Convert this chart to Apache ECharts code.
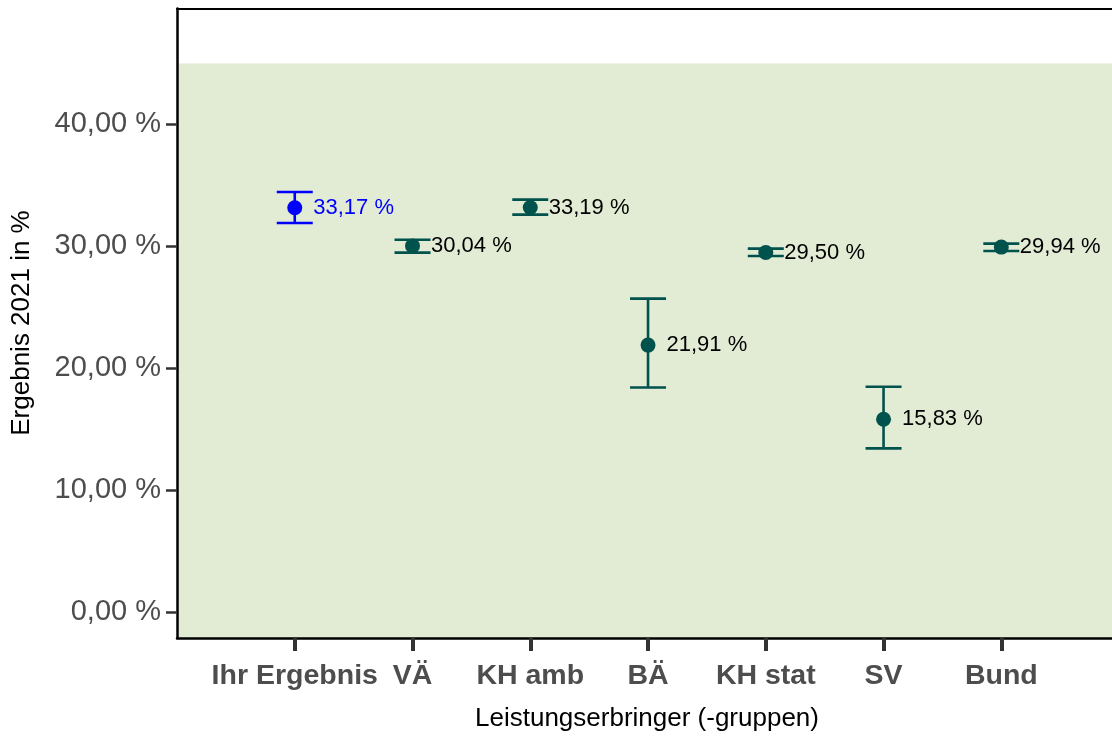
<!DOCTYPE html>
<html>
<head>
<meta charset="utf-8">
<script src="https://cdn.jsdelivr.net/npm/echarts@6/dist/echarts.min.js"></script>
<style>
  html, body { margin: 0; padding: 0; background: #ffffff; }
  #chart { width: 1112px; height: 740px; }
</style>
</head>
<body>
<div id="chart"></div>
<script>
// ---- data ----
const categories = ['Ihr Ergebnis', 'VÄ', 'KH amb', 'BÄ', 'KH stat', 'SV', 'Bund'];
const values = [33.17, 30.04, 33.19, 21.91, 29.50, 15.83, 29.94];
const lowerCI = [31.92, 29.49, 32.60, 18.43, 29.21, 13.44, 29.62];
const upperCI = [34.46, 30.55, 33.83, 25.72, 29.82, 18.49, 30.23];
const yTickValues = [0, 10, 20, 30, 40];
const referenceBandTop = 45;

const xPositions = categories.map((c, i) => i + 1);
const highlightColor = '#0000FF';
const groupColor = '#00524C';
const fmt = v => v.toFixed(2).replace('.', ',') + ' %';

const chart = echarts.init(document.getElementById('chart'), null, { renderer: 'canvas' });

const errData = categories.map((c, i) => [xPositions[i], lowerCI[i], upperCI[i], i]);
const pointData = categories.map((c, i) => ({
  value: [xPositions[i], values[i]],
  itemStyle: { color: i === 0 ? highlightColor : groupColor, opacity: 1 },
  label: { color: i === 0 ? highlightColor : '#000000' }
}));

const option = {
  animation: false,
  backgroundColor: '#ffffff',
  grid: {
    left: 177, top: 8.5, right: 0, bottom: 102,
    show: false
  },
  xAxis: [
    {
      type: 'value',
      min: 0, max: 7.94,
      axisLine: { show: true, onZero: false, lineStyle: { color: '#000000', width: 2.5 } },
      axisTick: { show: true, customValues: xPositions, length: 13, lineStyle: { color: '#333333', width: 4 } },
      axisLabel: {
        customValues: xPositions,
        formatter: v => categories[Math.round(v) - 1] || '',
        fontFamily: 'Liberation Sans, Arial, sans-serif',
        fontWeight: 'bold', fontSize: 28.5, color: '#4d4d4d', margin: 24
      },
      splitLine: { show: false },
      z: 10
    },
    {
      type: 'value', position: 'top',
      min: 0, max: 7.94,
      axisLine: { show: true, onZero: false, lineStyle: { color: '#000000', width: 2 } },
      axisTick: { show: false },
      axisLabel: { show: false },
      splitLine: { show: false }
    }
  ],
  yAxis: {
    type: 'value',
    min: -2.1, max: 49.5,
    axisLine: { show: true, onZero: false, lineStyle: { color: '#000000', width: 2.5 } },
    axisTick: { show: true, customValues: yTickValues, length: 11, lineStyle: { color: '#333333', width: 2.5 } },
    axisLabel: {
      customValues: yTickValues,
      formatter: v => fmt(v),
      fontFamily: 'Liberation Sans, Arial, sans-serif',
      fontSize: 29, color: '#4d4d4d', margin: 16
    },
    splitLine: { show: false },
    z: 10
  },
  graphic: [
    {
      type: 'text',
      rotation: Math.PI / 2,
      x: 22, y: 323,
      style: {
        text: 'Ergebnis 2021 in %', fill: '#000000',
        font: '26px "Liberation Sans", Arial, sans-serif',
        align: 'center', verticalAlign: 'middle'
      }
    },
    {
      type: 'text', x: 647, y: 719,
      style: {
        text: 'Leistungserbringer (-gruppen)', fill: '#000000',
        font: '26px "Liberation Sans", Arial, sans-serif',
        align: 'center', verticalAlign: 'middle'
      }
    }
  ],
  series: [
    {
      type: 'line', data: [], z: 1, silent: true,
      markArea: {
        silent: true,
        itemStyle: { color: '#E2EBD4', opacity: 1 },
        data: [[{ yAxis: -2.1 }, { yAxis: referenceBandTop }]]
      }
    },
    {
      type: 'custom', z: 3, silent: true,
      data: errData,
      renderItem: function (params, api) {
        const x = api.value(0), lo = api.value(1), hi = api.value(2), idx = api.value(3);
        const pLo = api.coord([x, lo]);
        const pHi = api.coord([x, hi]);
        const hw = 18;
        const color = idx === 0 ? highlightColor : groupColor;
        const st = { stroke: color, lineWidth: 2.6 };
        return {
          type: 'group',
          children: [
            { type: 'line', shape: { x1: pLo[0], y1: pLo[1], x2: pHi[0], y2: pHi[1] }, style: st },
            { type: 'line', shape: { x1: pLo[0] - hw, y1: pLo[1], x2: pLo[0] + hw, y2: pLo[1] }, style: st },
            { type: 'line', shape: { x1: pHi[0] - hw, y1: pHi[1], x2: pHi[0] + hw, y2: pHi[1] }, style: st }
          ]
        };
      }
    },
    {
      type: 'scatter', z: 4, silent: true,
      symbol: 'circle', symbolSize: 15,
      itemStyle: { opacity: 1 },
      data: pointData,
      label: {
        show: true, position: 'right', distance: 11,
        formatter: p => fmt(p.value[1]),
        fontFamily: 'Liberation Sans, Arial, sans-serif',
        fontSize: 22, opacity: 1
      }
    }
  ]
};

chart.setOption(option);
</script>
</body>
</html>
